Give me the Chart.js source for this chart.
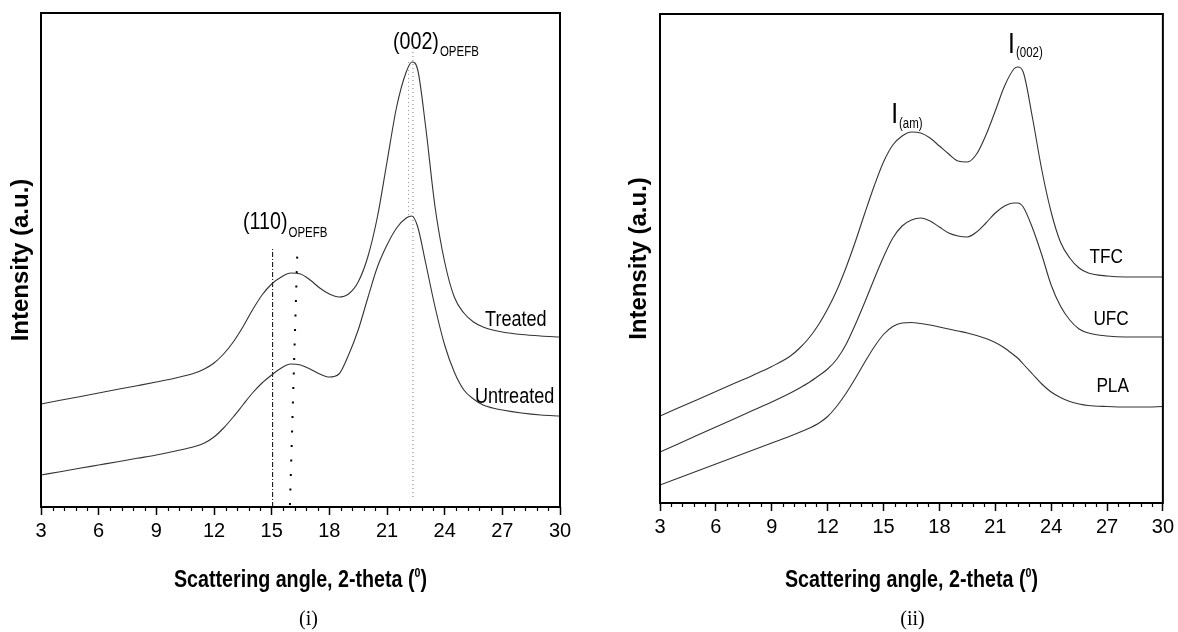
<!DOCTYPE html>
<html>
<head>
<meta charset="utf-8">
<title>XRD patterns</title>
<script src="https://cdn.jsdelivr.net/npm/chart.js@4.4.1/dist/chart.umd.min.js"></script>
<style>
	body { margin: 0; background: #fff; }
	.panel { position: absolute; top: 0; height: 632px; }
	#left { left: 0; width: 600px; }
	#right { left: 600px; width: 578px; }
</style>
</head>
<body>
<div class="panel" id="left"><canvas id="chartLeft"></canvas></div>
<div class="panel" id="right"><canvas id="chartRight"></canvas></div>
<script>
	// --- data (intensity in arbitrary units) ---
	const angleLeft = [3, 4, 5, 6, 7, 8, 9, 10, 11, 11.5, 12, 12.5, 13, 13.5, 14, 14.5, 15, 15.5, 16, 16.5, 17, 17.5, 18, 18.5, 19, 19.5, 20, 20.5, 21, 21.5, 22, 22.3, 22.6, 23, 23.5, 24, 24.5, 25, 25.5, 26, 26.5, 27, 28, 29, 30];
	const treated = [103, 106.7, 110.3, 114, 117.7, 121.3, 125, 129, 134, 138, 144, 153, 165, 180, 197, 212, 223, 230, 234, 233, 227, 219, 213, 210, 213, 225, 250, 290, 345, 400, 435, 445, 437, 382, 300, 245, 210, 194, 185, 180, 177, 175, 172.5, 171, 170];
	const untreated = [32, 35.3, 38.7, 42, 45.3, 48.7, 52, 56, 60.5, 64, 70, 79, 90, 102, 114, 124, 132, 139, 143, 142, 138, 133, 130, 133, 152, 177, 209, 240, 262, 279, 289, 291, 280, 245, 200, 162, 135, 117, 108, 102, 99, 97, 94, 92, 91];

	const angleRight = [3, 4, 5, 6, 7, 8, 9, 10, 10.5, 11, 11.5, 12, 12.5, 13, 13.5, 14, 14.5, 15, 15.5, 16, 16.5, 17, 17.5, 18, 18.5, 19, 19.5, 20, 20.5, 21, 21.5, 22, 22.2, 22.5, 23, 23.5, 24, 24.5, 25, 25.5, 26, 27, 28, 29, 30];
	const tfc = [87, 95.2, 103.3, 111.5, 119.7, 127.8, 136.5, 147, 155, 165, 178, 194, 213, 236, 262, 290, 317, 341, 358, 367, 371, 370, 365, 357, 349, 342, 341, 349, 368, 392, 417, 434, 436, 431, 385, 333, 291, 261, 245, 235, 230, 227, 226, 226, 226];
	const ufc = [51, 59.3, 67.7, 76, 84.3, 92.7, 101, 110, 115, 120.5, 127, 134, 144, 159, 179, 201, 224, 246, 265, 277, 283, 285, 282, 276, 270, 267, 266, 271, 280, 290, 297, 300, 300, 296, 275, 248, 218, 197, 183, 174, 170, 167, 166, 166, 166];
	const pla = [18, 25, 32, 39, 46, 53, 60, 67, 70.7, 74.7, 79.5, 86.5, 97, 110, 125, 141, 156, 168.5, 176.5, 180, 180.5, 179.5, 178, 176, 174, 172, 170, 167.5, 164.5, 160.5, 155, 148, 145, 139, 129, 119, 111, 105.5, 101.5, 99, 97.5, 96.5, 96, 96, 96.5];

	// peak marker lines on pattern (i)
	const dashDotX = [15.05, 15.05], dashDotY = [0, 259];
	const sparseDotX = [15.95, 16.33], sparseDotY = [2, 252];
	const peak002X = [22.35, 22.35], peak002Y = [10, 464];
	const peak002bX = [22.12, 22.12], peak002bY = [292, 445];

	const xMin = 3, xMax = 30, xMajor = 3, xMinor = 0.6;
	const xTitle = 'Scattering angle, 2-theta (';
	const yTitle = 'Intensity (a.u.)';

	const NARROW = 0.82;
	const SANS = '"Liberation Sans", Arial, sans-serif';

	const pts = (xs, ys) => xs.map((v, i) => ({ x: v, y: ys[i] }));

	function narrowText(ctx, str, x, y, font) {
		ctx.save();
		ctx.font = font;
		const w = ctx.measureText(str).width * NARROW;
		ctx.translate(x, y);
		ctx.scale(NARROW, 1);
		ctx.textAlign = 'left';
		ctx.textBaseline = 'alphabetic';
		ctx.fillText(str, 0, 0);
		ctx.restore();
		return w;
	}

	const xrdPlugin = {
		id: 'xrd',
		afterDatasetsDraw(chart, args, opts) {
			const { ctx, chartArea: a, scales: { x, y } } = chart;
			ctx.save();
			ctx.fillStyle = '#000';
			ctx.strokeStyle = '#000';

			// minor ticks
			ctx.lineWidth = 1.2;
			const n = Math.round((xMax - xMin) / xMinor);
			for (let i = 0; i <= n; i++) {
				if (i % 5 === 0) continue;
				const px = Math.round(x.getPixelForValue(xMin + i * xMinor)) + 0.5;
				ctx.beginPath();
				ctx.moveTo(px, a.bottom);
				ctx.lineTo(px, a.bottom + 4);
				ctx.stroke();
			}

			// frame
			ctx.lineWidth = 2;
			ctx.strokeRect(a.left, a.top, a.right - a.left, a.bottom - a.top);

			// annotations
			opts.labels.forEach(l => {
				const px = x.getPixelForValue(l.x);
				const py = y.getPixelForValue(l.y);
				const w = narrowText(ctx, l.text, px, py, l.size + 'px ' + SANS);
				if (l.sub) narrowText(ctx, l.sub, px + w + 1, py + l.subDy, l.subSize + 'px ' + SANS);
			});

			// y title
			ctx.save();
			ctx.translate(opts.yTitleX, (a.top + a.bottom) / 2);
			ctx.rotate(-Math.PI / 2);
			ctx.font = 'bold 24px ' + SANS;
			ctx.textAlign = 'center';
			ctx.textBaseline = 'middle';
			ctx.fillText(yTitle, 0, 0);
			ctx.restore();

			// x title with superscript 0
			const cx = (a.left + a.right) / 2;
			const big = 'bold 24px ' + SANS, small = 'bold 13px ' + SANS;
			ctx.font = big;
			const w1 = ctx.measureText(xTitle).width * NARROW;
			const w3 = ctx.measureText(')').width * NARROW;
			ctx.font = small;
			const w2 = ctx.measureText('0').width * NARROW;
			let sx = cx - (w1 + w2 + w3) / 2;
			narrowText(ctx, xTitle, sx, opts.xTitleY, big);
			narrowText(ctx, '0', sx + w1, opts.xTitleY - 10, small);
			narrowText(ctx, ')', sx + w1 + w2, opts.xTitleY, big);

			// panel caption
			ctx.font = '20px "Liberation Serif", "Times New Roman", serif';
			ctx.textAlign = 'center';
			ctx.textBaseline = 'alphabetic';
			ctx.fillText(opts.caption, cx + opts.captionDx, opts.captionY);
			ctx.restore();
		}
	};

	function makeChart(id, datasets, yMax, pad, xHeight, deco) {
		return new Chart(document.getElementById(id), {
			type: 'line',
			data: { datasets: datasets },
			options: {
				responsive: true,
				maintainAspectRatio: false,
				animation: false,
				events: [],
				layout: { padding: pad },
				elements: { point: { radius: 0 } },
				plugins: { legend: { display: false }, tooltip: { enabled: false }, xrd: deco },
				scales: {
					x: {
						type: 'linear',
						min: xMin,
						max: xMax,
						afterFit: s => { s.height = xHeight; },
						border: { display: false },
						grid: { drawOnChartArea: false, tickLength: 8, tickColor: '#000', tickWidth: 1.5 },
						ticks: {
							stepSize: xMajor,
							color: '#000',
							padding: 4,
							maxRotation: 0,
							font: { family: '"Liberation Sans Narrow", "Arial Narrow", "Liberation Sans", sans-serif', size: 20 }
						}
					},
					y: { display: false, min: 0, max: yMax }
				}
			},
			plugins: [xrdPlugin]
		});
	}

	const curveStyle = { borderColor: '#333', borderWidth: 1.1, cubicInterpolationMode: 'monotone', fill: false };

	makeChart('chartLeft', [
		{ label: 'Treated', data: pts(angleLeft, treated), ...curveStyle },
		{ label: 'Untreated', data: pts(angleLeft, untreated), ...curveStyle },
		{ label: '(110) a', data: pts(dashDotX, dashDotY), borderColor: '#000', borderWidth: 1, borderDash: [5, 2, 1, 2] },
		{ label: '(110) b', data: pts(sparseDotX, sparseDotY), borderColor: '#000', borderWidth: 2, borderDash: [2, 12.5] },
		{ label: '(002) a', data: pts(peak002X, peak002Y), borderColor: '#777', borderWidth: 1, borderDash: [1, 3] },
		{ label: '(002) b', data: pts(peak002bX, peak002bY), borderColor: '#999', borderWidth: 1, borderDash: [1, 3] }
	], 494, { left: 41, right: 40, top: 13, bottom: 0 }, 125, {
		yTitleX: 21,
		xTitleY: 587,
		caption: '(i)',
		captionDx: 8,
		captionY: 625,
		labels: [
			{ text: '(002)', sub: 'OPEFB', x: 21.31, y: 458, size: 24, subSize: 14, subDy: 7 },
			{ text: '(110)', sub: 'OPEFB', x: 13.51, y: 278, size: 24, subSize: 14, subDy: 8 },
			{ text: 'Treated', x: 26.1, y: 181, size: 22 },
			{ text: 'Untreated', x: 25.58, y: 104, size: 22 }
		]
	});

	makeChart('chartRight', [
		{ label: 'TFC', data: pts(angleRight, tfc), ...curveStyle },
		{ label: 'UFC', data: pts(angleRight, ufc), ...curveStyle },
		{ label: 'PLA', data: pts(angleRight, pla), ...curveStyle }
	], 489, { left: 60, right: 10, top: 14, bottom: 0 }, 129, {
		yTitleX: 39,
		xTitleY: 587,
		caption: '(ii)',
		captionDx: 1,
		captionY: 625,
		labels: [
			{ text: 'I', sub: '(am)', x: 15.41, y: 380, size: 30, subSize: 14, subDy: 5 },
			{ text: 'I', sub: '(002)', x: 21.69, y: 450, size: 30, subSize: 14, subDy: 4 },
			{ text: 'TFC', x: 26.06, y: 240, size: 21 },
			{ text: 'UFC', x: 26.27, y: 178, size: 21 },
			{ text: 'PLA', x: 26.43, y: 111, size: 21 }
		]
	});
</script>
</body>
</html>
